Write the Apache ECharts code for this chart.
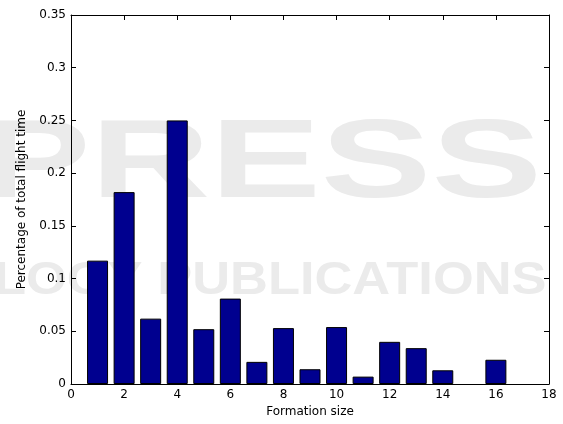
<!DOCTYPE html>
<html>
<head>
<meta charset="utf-8">
<script src="https://cdn.jsdelivr.net/npm/echarts@6/dist/echarts.min.js"></script>
<style>
html,body{margin:0;padding:0;background:#fff;}
#chart{width:563px;height:424px;}
</style>
</head>
<body>
<div id="chart"></div>
<script>
const formationSizes = [1, 2, 3, 4, 5, 6, 7, 8, 9, 10, 11, 12, 13, 14, 16];
const flightTimeShare = [0.117, 0.182, 0.062, 0.250, 0.052, 0.081, 0.021, 0.053, 0.014, 0.054, 0.007, 0.040, 0.034, 0.013, 0.023];
const xTicks = [0, 2, 4, 6, 8, 10, 12, 14, 16, 18];
const yTicks = [0, 0.05, 0.1, 0.15, 0.2, 0.25, 0.3, 0.35];

const chart = echarts.init(document.getElementById('chart'), null, {renderer: 'canvas'});
const font = '"DejaVu Sans", Verdana, sans-serif';
const wm = '#ebebeb';
const axisCommon = {
  axisLine: {show: true, onZero: false, lineStyle: {color: '#000', width: 1}},
  axisTick: {show: true, inside: true, length: 5, lineStyle: {color: '#000'}},
  splitLine: {show: false}
};
chart.setOption({
  animation: false,
  backgroundColor: '#fff',
  graphic: [
    {type: 'text', z: -10, x: -20, y: 110, scaleX: 1.48, style: {text: 'PRESS', font: 'bold 112px "Liberation Sans", Arial, sans-serif', fill: wm}},
    {type: 'text', z: -10, x: -6, y: 258, scaleX: 1.14, style: {text: 'LOGY PUBLICATIONS', font: 'bold 46px "Liberation Sans", Arial, sans-serif', fill: wm}}
  ],
  grid: {left: 71, right: 14, top: 15, bottom: 40, containLabel: false},
  xAxis: [
    Object.assign({}, axisCommon, {
      type: 'value', position: 'bottom', min: xTicks[0], max: xTicks[xTicks.length - 1], interval: 2,
      name: 'Formation size', nameLocation: 'middle', nameGap: 22,
      nameTextStyle: {color: '#000', fontSize: 12, fontFamily: font},
      axisLabel: {color: '#000', fontSize: 12, fontFamily: font, margin: 5}
    }),
    Object.assign({}, axisCommon, {
      type: 'value', position: 'top', min: xTicks[0], max: xTicks[xTicks.length - 1], interval: 2,
      axisLabel: {show: false}
    })
  ],
  yAxis: [
    Object.assign({}, axisCommon, {
      type: 'value', position: 'left', min: yTicks[0], max: yTicks[yTicks.length - 1], interval: 0.05,
      name: 'Percentage of total flight time', nameLocation: 'middle', nameGap: 43,
      nameTextStyle: {color: '#000', fontSize: 12, fontFamily: font},
      axisLabel: {color: '#000', fontSize: 12, fontFamily: font, margin: 5}
    }),
    Object.assign({}, axisCommon, {
      type: 'value', position: 'right', min: yTicks[0], max: yTicks[yTicks.length - 1], interval: 0.05,
      axisLabel: {show: false}
    })
  ],
  series: [{
    type: 'bar',
    xAxisIndex: 0, yAxisIndex: 0,
    data: formationSizes.map((x, i) => [x, flightTimeShare[i]]),
    barWidth: 21,
    itemStyle: {color: '#00008f', borderColor: '#000', borderWidth: 1}
  }]
});
</script>
</body>
</html>
